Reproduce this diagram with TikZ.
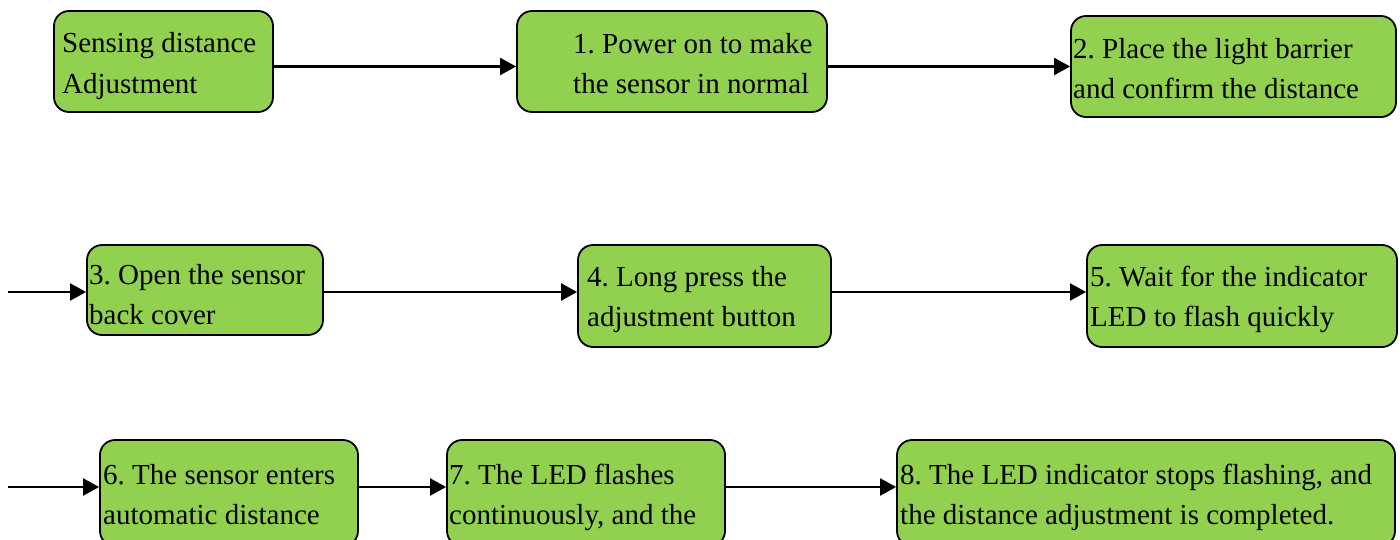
\documentclass[tikz,border=0pt]{standalone}
\usepackage{fontspec}
\setmainfont{Liberation Serif}
\usetikzlibrary{arrows.meta,calc}
\definecolor{boxgreen}{HTML}{92D050}
\tikzset{
  box/.style={draw=black, fill=boxgreen, line width=1.8pt, rounded corners=15pt, inner sep=0pt, minimum width=#1},
  arr/.style={line width=2.2pt, -{Triangle[length=16pt,width=17pt]}},
  txt/.style={anchor=base west, inner sep=0pt, font=\fontsize{29}{40}\selectfont\frenchspacing}
}
\begin{document}
\begin{tikzpicture}[x=1pt,y=-1pt]
\useasboundingbox (0,0) rectangle (1400,539);
% row 1
\node[box=219pt, minimum height=101pt] (b0) at (163.5,61.5) {};
\node[box=310pt, minimum height=101pt] (b1) at (672,61.5) {};
\node[box=325pt, minimum height=101pt] (b2) at (1233.5,66.5) {};
\node[txt] (t0a) at (62,52) {Sensing distance};
\node[txt] (t0b) at (62,93) {Adjustment};
\node[txt] (t1a) at (573,53) {1. Power on to make};
\node[txt] (t1b) at (573,93) {the sensor in normal};
\node[txt] (t2a) at (1073,58) {2. Place the light barrier};
\node[txt] (t2b) at (1073,98) {and confirm the distance};
\draw[arr] (b0.east |- b2.west) -- (b1.west |- b2.west);
\draw[arr] (b1.east |- b2.west) -- (b2.west);
% row 2
\node[box=236pt, minimum height=90pt] (b3) at (205,290) {};
\node[box=253pt, minimum height=102pt] (b4) at (704.5,296) {};
\node[box=310pt, minimum height=102pt] (b5) at (1242,296) {};
\node[txt] (t3a) at (89,284) {3. Open the sensor};
\node[txt] (t3b) at (89,324) {back cover};
\node[txt] (t4a) at (587,286) {4. Long press the};
\node[txt] (t4b) at (587,326) {adjustment button};
\node[txt] (t5a) at (1090,286) {5. Wait for the indicator};
\node[txt] (t5b) at (1090,326) {LED to flash quickly};
\coordinate (s3) at (8,292);
\draw[arr] (s3) -- (s3 -| b3.west);
\draw[arr] (s3 -| b3.east) -- (s3 -| b4.west);
\draw[arr] (s3 -| b4.east) -- (s3 -| b5.west);
% row 3
\node[box=258pt, minimum height=106pt] (b6) at (229,493) {};
\node[box=278pt, minimum height=106pt] (b7) at (586,493) {};
\node[box=498pt, minimum height=106pt] (b8) at (1146,493) {};
\node[txt] (t6a) at (103,484) {6. The sensor enters};
\node[txt] (t6b) at (103,524) {automatic distance};
\node[txt] (t7a) at (449,484) {7. The LED flashes};
\node[txt] (t7b) at (449,524) {continuously, and the};
\node[txt] (t8a) at (900,484) {8. The LED indicator stops flashing, and};
\node[txt] (t8b) at (900,524) {the distance adjustment is completed.};
\coordinate (s6) at (8,487);
\draw[arr] (s6) -- (s6 -| b6.west);
\draw[arr] (s6 -| b6.east) -- (s6 -| b7.west);
\draw[arr] (s6 -| b7.east) -- (s6 -| b8.west);
\end{tikzpicture}
\end{document}
